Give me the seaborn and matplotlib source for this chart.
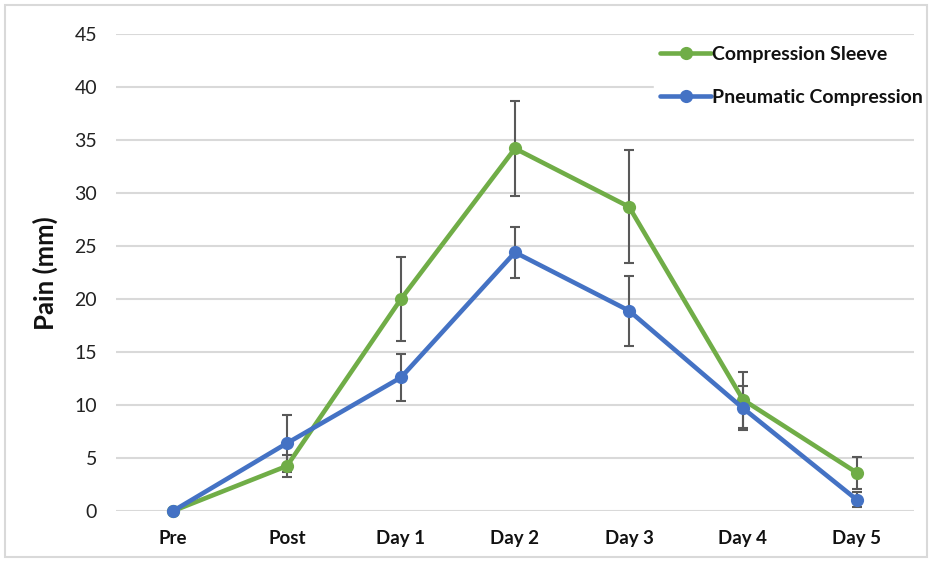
import matplotlib
matplotlib.use("Agg")
import matplotlib.pyplot as plt
import seaborn as sns
import pandas as pd
from matplotlib.lines import Line2D
from matplotlib.patches import Rectangle

categories = ["Pre", "Post", "Day 1", "Day 2", "Day 3", "Day 4", "Day 5"]
sleeve = [0.0, 4.25, 20.0, 34.2, 28.7, 10.5, 3.6]
sleeve_err = [0.0, 1.05, 4.0, 4.45, 5.35, 2.65, 1.5]
pneumatic = [0.0, 6.4, 12.6, 24.4, 18.9, 9.7, 1.05]
pneumatic_err = [0.0, 2.7, 2.2, 2.4, 3.3, 2.1, 0.7]
series_names = ["Compression Sleeve", "Pneumatic Compression"]
y_ticks = [0, 5, 10, 15, 20, 25, 30, 35, 40, 45]

GREEN = "#70AD47"
BLUE = "#4472C4"
ERR = "#595959"

sns.set_theme(style="white")
plt.rcParams["font.family"] = ["Lato", "DejaVu Sans"]

df = pd.DataFrame({
    "cat": categories * 2,
    "value": sleeve + pneumatic,
    "series": [series_names[0]] * len(categories) + [series_names[1]] * len(categories),
})

fig = plt.figure(figsize=(9.32, 5.62), dpi=100)
ax = fig.add_axes([116 / 932, 51 / 562, 798 / 932, 477 / 562])

# error bars (behind lines)
ax.errorbar(categories, sleeve, yerr=sleeve_err, fmt="none", ecolor=ERR,
            elinewidth=1.5, capsize=3.8, capthick=1.5, zorder=2)
ax.errorbar(categories, pneumatic, yerr=pneumatic_err, fmt="none", ecolor=ERR,
            elinewidth=1.5, capsize=3.8, capthick=1.5, zorder=2)

sns.lineplot(data=df, x="cat", y="value", hue="series",
             palette={series_names[0]: GREEN, series_names[1]: BLUE},
             marker="o", markersize=9.5, markeredgewidth=0, linewidth=3.3,
             sort=False, ax=ax, legend=False, zorder=3)
for ln in ax.lines:
    ln.set_clip_on(False)

ax.set_xlim(-0.5, len(categories) - 0.5)
ax.set_ylim(0, 45)
ax.set_yticks(y_ticks)
ax.yaxis.grid(True, color="#D9D9D9", linewidth=1.5, zorder=0)
ax.set_axisbelow(True)
for s in ax.spines.values():
    s.set_visible(False)
ax.tick_params(axis="both", length=0)
ax.tick_params(axis="y", pad=13.5, labelsize=14, labelcolor="#222222")
ax.tick_params(axis="x", pad=14, labelsize=13.5, labelcolor="#111111")
for lab in ax.get_xticklabels():
    lab.set_fontweight("bold")
ax.set_xlabel("")
ax.set_ylabel("Pain (mm)", fontsize=18.5, fontweight="bold", color="#111111")
ax.yaxis.set_label_coords((58 - 116) / 798, (511 - 273) / 477)

# legend
handles = [
    Line2D([0], [0], color=GREEN, marker="o", markersize=9.5, linewidth=3.3, markeredgewidth=0),
    Line2D([0], [0], color=BLUE, marker="o", markersize=9.5, linewidth=3.3, markeredgewidth=0),
]
leg = fig.legend(handles, series_names, loc="upper left", bbox_to_anchor=(654 / 932, 1 - 40 / 562),
                 frameon=True, facecolor="white", edgecolor="white", framealpha=1,
                 fontsize=14, handlelength=2.65, handletextpad=0.05, labelspacing=1.32,
                 borderpad=0.3, borderaxespad=0)
for t in leg.get_texts():
    t.set_fontweight("bold")
    t.set_color("#111111")

# outer chart border
border = Rectangle((5 / 932, 5 / 562), 922 / 932, 552 / 562, transform=fig.transFigure,
                   fill=False, edgecolor="#D9D9D9", linewidth=1.5, zorder=20)
fig.patches.append(border)

fig.savefig("out.png", dpi=100)
